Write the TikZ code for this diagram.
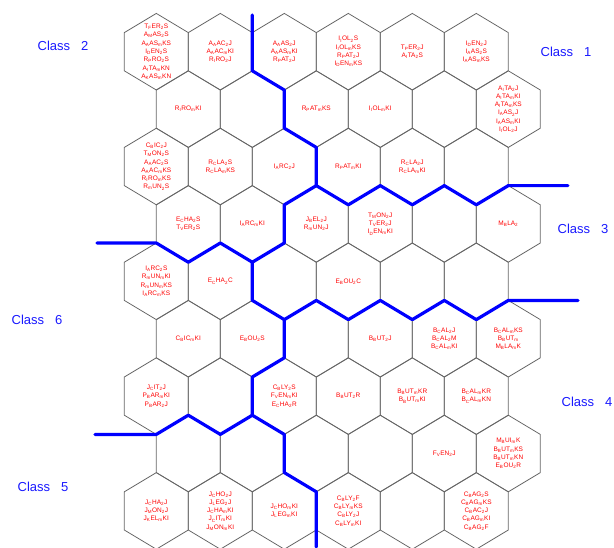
\documentclass[tikz,border=0pt]{standalone}
\usepackage{fontspec}
\setmainfont{Liberation Sans}

\newcommand\subs[1]{\textsubscript{#1}}

\tikzset{
  hexcell/.style={draw=black!60, line width=0.8pt},
  border/.style={draw=blue, line width=3.2pt, line join=round, line cap=round},
  classlabel/.style={text=blue!90!white, font=\fontsize{13}{15}\selectfont, inner sep=0pt},
  unitlabel/.style={text=red, font=\fontsize{6.5}{8.3}\selectfont, align=center, inner sep=0pt}
}

\begin{document}
\begin{tikzpicture}[x=1pt,y=-1pt]

\useasboundingbox (0,0) rectangle (614,547);

% hexagonal map, 9 rows of 6 cells
\foreach \r in {0,...,8}{
  \foreach \c in {0,...,5}{
    \pgfmathsetmacro\cx{156.3+64*\c+32*mod(\r,2)}
    \pgfmathsetmacro\cy{51.7+57.4*\r}
    \draw[hexcell] (\cx,\cy-38.3) -- ++(32,19.2) -- ++(0,38.2) -- ++(-32,19.2)
      -- ++(-32,-19.2) -- ++(0,-38.2) -- cycle;
  }
}

% class borders
\coordinate (j1) at (316.3,185.6);
\coordinate (j2) at (252.3,262.2);
\coordinate (j3) at (284.3,319.6);
\coordinate (j4) at (252.3,415.2);

\draw[border] (252.3,15) -- (252.3,70.8) -- (284.3,90) -- (284.3,128.2) -- (316.3,147.4) -- (j1);
\draw[border] (j1) -- (348.3,204.8) -- (380.3,185.6) -- (412.3,204.8) -- (444.3,185.6)
  -- (476.3,204.8) -- (508.3,185.6) -- (568,185.6);
\draw[border] (j1) -- (284.3,204.8) -- (284.3,243) -- (j2);
\draw[border] (97,243) -- (156.3,243) -- (188.3,262.2) -- (220.3,243) -- (j2);
\draw[border] (j2) -- (252.3,300.4) -- (j3);
\draw[border] (j3) -- (316.3,300.4) -- (348.3,319.6) -- (380.3,300.4) -- (412.3,319.6)
  -- (444.3,300.4) -- (476.3,319.6) -- (508.3,300.4) -- (578,300.4);
\draw[border] (j3) -- (284.3,357.8) -- (252.3,377) -- (j4);
\draw[border] (j4) -- (220.3,434.4) -- (188.3,415.2) -- (156.3,434.4) -- (95,434.4);
\draw[border] (j4) -- (284.3,434.4) -- (284.3,472.6) -- (316.3,491.8) -- (316.3,547);

% class names
\node[classlabel] (cl2) at (63,46) {Class~~~2};
\node[classlabel] (cl1) at (566,52) {Class~~~1};
\node[classlabel] (cl3) at (583,229) {Class~~~3};
\node[classlabel] (cl6) at (37,320) {Class~~~6};
\node[classlabel] (cl4) at (587,402) {Class~~~4};
\node[classlabel] (cl5) at (43,487) {Class~~~5};

% row 1
\node[unitlabel] (u11) at (156.3,51.7)
{T\subs{F}ER\subs{2}S\\A\subs{M}AS\subs{2}S\\A\subs{A}AS\subs{m}KS\\I\subs{D}EN\subs{2}S\\R\subs{P}RO\subs{2}S\\A\subs{I}TA\subs{m}KN\\A\subs{K}AS\subs{m}KN};
\node[unitlabel] (u12) at (220.3,51.7)
{A\subs{A}AC\subs{2}J\\A\subs{A}AC\subs{m}KI\\R\subs{I}RO\subs{2}J};
\node[unitlabel] (u13) at (284.3,51.7)
{A\subs{A}AS\subs{2}J\\A\subs{A}AS\subs{m}KI\\R\subs{P}AT\subs{2}J};
\node[unitlabel] (u14) at (348.3,51.7)
{I\subs{I}OL\subs{2}S\\I\subs{I}OL\subs{m}KS\\R\subs{P}AT\subs{2}J\\I\subs{D}EN\subs{m}KS};
\node[unitlabel] (u15) at (412.3,51.7)
{T\subs{P}ER\subs{2}J\\A\subs{I}TA\subs{2}S};
\node[unitlabel] (u16) at (476.3,51.7)
{I\subs{D}EN\subs{2}J\\I\subs{A}AS\subs{2}S\\I\subs{A}AS\subs{m}KS};

% row 2
\node[unitlabel] (u21) at (188.3,109.1)
{R\subs{I}RO\subs{m}KI};
\node[unitlabel] (u23) at (316.3,109.1)
{R\subs{P}AT\subs{m}KS};
\node[unitlabel] (u24) at (380.3,109.1)
{I\subs{I}OL\subs{m}KI};
\node[unitlabel] (u26) at (508.3,109.1)
{A\subs{I}TA\subs{2}J\\A\subs{I}TA\subs{m}KI\\A\subs{I}TA\subs{m}KS\\I\subs{A}AS\subs{2}J\\I\subs{A}AS\subs{m}KI\\I\subs{I}OL\subs{2}J};

% row 3
\node[unitlabel] (u31) at (156.3,166.5)
{C\subs{B}IC\subs{2}J\\T\subs{M}ON\subs{2}S\\A\subs{A}AC\subs{2}S\\A\subs{A}AC\subs{m}KS\\R\subs{I}RO\subs{m}KS\\R\subs{m}UN\subs{2}S};
\node[unitlabel] (u32) at (220.3,166.5)
{R\subs{C}LA\subs{2}S\\R\subs{C}LA\subs{m}KS};
\node[unitlabel] (u33) at (284.3,166.5)
{I\subs{A}RC\subs{2}J};
\node[unitlabel] (u34) at (348.3,166.5)
{R\subs{P}AT\subs{m}KI};
\node[unitlabel] (u35) at (412.3,166.5)
{R\subs{C}LA\subs{2}J\\R\subs{C}LA\subs{m}KI};

% row 4
\node[unitlabel] (u41) at (188.3,223.9)
{E\subs{C}HA\subs{2}S\\T\subs{V}ER\subs{2}S};
\node[unitlabel] (u42) at (252.3,223.9)
{I\subs{A}RC\subs{m}KI};
\node[unitlabel] (u43) at (316.3,223.9)
{J\subs{B}EL\subs{2}J\\R\subs{m}UN\subs{2}J};
\node[unitlabel] (u44) at (380.3,223.9)
{T\subs{M}ON\subs{2}J\\T\subs{V}ER\subs{2}J\\I\subs{D}EN\subs{m}KI};
\node[unitlabel] (u46) at (508.3,223.9)
{M\subs{B}LA\subs{2}};

% row 5
\node[unitlabel] (u51) at (156.3,281.3)
{I\subs{A}RC\subs{2}S\\R\subs{m}UN\subs{m}KI\\R\subs{m}UN\subs{m}KS\\I\subs{A}RC\subs{m}KS};
\node[unitlabel] (u52) at (220.3,281.3)
{E\subs{C}HA\subs{2}C};
\node[unitlabel] (u54) at (348.3,281.3)
{E\subs{B}OU\subs{2}C};

% row 6
\node[unitlabel] (u61) at (188.3,338.7)
{C\subs{B}IC\subs{m}KI};
\node[unitlabel] (u62) at (252.3,338.7)
{E\subs{B}OU\subs{2}S};
\node[unitlabel] (u64) at (380.3,338.7)
{B\subs{B}UT\subs{2}J};
\node[unitlabel] (u65) at (444.3,338.7)
{B\subs{C}AL\subs{2}J\\B\subs{C}AL\subs{2}M\\B\subs{C}AL\subs{m}KI};
\node[unitlabel] (u66) at (508.3,338.7)
{B\subs{C}AL\subs{m}KS\\B\subs{B}UT\subs{m}\\M\subs{B}LA\subs{m}K};

% row 7
\node[unitlabel] (u71) at (156.3,396.1)
{J\subs{C}IT\subs{2}J\\P\subs{B}AR\subs{m}KI\\P\subs{B}AR\subs{2}J};
\node[unitlabel] (u73) at (284.3,396.1)
{C\subs{B}LY\subs{2}S\\F\subs{V}EN\subs{m}KI\\E\subs{C}HA\subs{2}R};
\node[unitlabel] (u74) at (348.3,396.1)
{B\subs{B}UT\subs{2}R};
\node[unitlabel] (u75) at (412.3,396.1)
{B\subs{B}UT\subs{m}KR\\B\subs{B}UT\subs{m}KI};
\node[unitlabel] (u76) at (476.3,396.1)
{B\subs{C}AL\subs{m}KR\\B\subs{C}AL\subs{m}KN};

% row 8
\node[unitlabel] (u85) at (444.3,453.5)
{F\subs{V}EN\subs{2}J};
\node[unitlabel] (u86) at (508.3,453.5)
{M\subs{B}UI\subs{m}K\\B\subs{B}UT\subs{m}KS\\B\subs{B}UT\subs{m}KN\\E\subs{B}OU\subs{2}R};

% row 9
\node[unitlabel] (u91) at (156.3,510.9)
{J\subs{C}HA\subs{2}J\\J\subs{M}ON\subs{2}J\\J\subs{K}EL\subs{m}KI};
\node[unitlabel] (u92) at (220.3,510.9)
{J\subs{C}HO\subs{2}J\\J\subs{L}EG\subs{2}J\\J\subs{C}HA\subs{m}KI\\J\subs{C}IT\subs{m}KI\\J\subs{M}ON\subs{m}KI};
\node[unitlabel] (u93) at (284.3,510.9)
{J\subs{C}HO\subs{m}KI\\J\subs{L}EG\subs{m}KI};
\node[unitlabel] (u94) at (348.3,510.9)
{C\subs{B}LY\subs{2}F\\C\subs{B}LY\subs{m}KS\\C\subs{B}LY\subs{2}J\\C\subs{B}LY\subs{m}KI};
\node[unitlabel] (u96) at (476.3,510.9)
{C\subs{B}AG\subs{2}S\\C\subs{B}AG\subs{m}KS\\C\subs{B}AC\subs{2}J\\C\subs{B}AG\subs{m}KI\\C\subs{B}AG\subs{2}F};

\end{tikzpicture}
\end{document}
